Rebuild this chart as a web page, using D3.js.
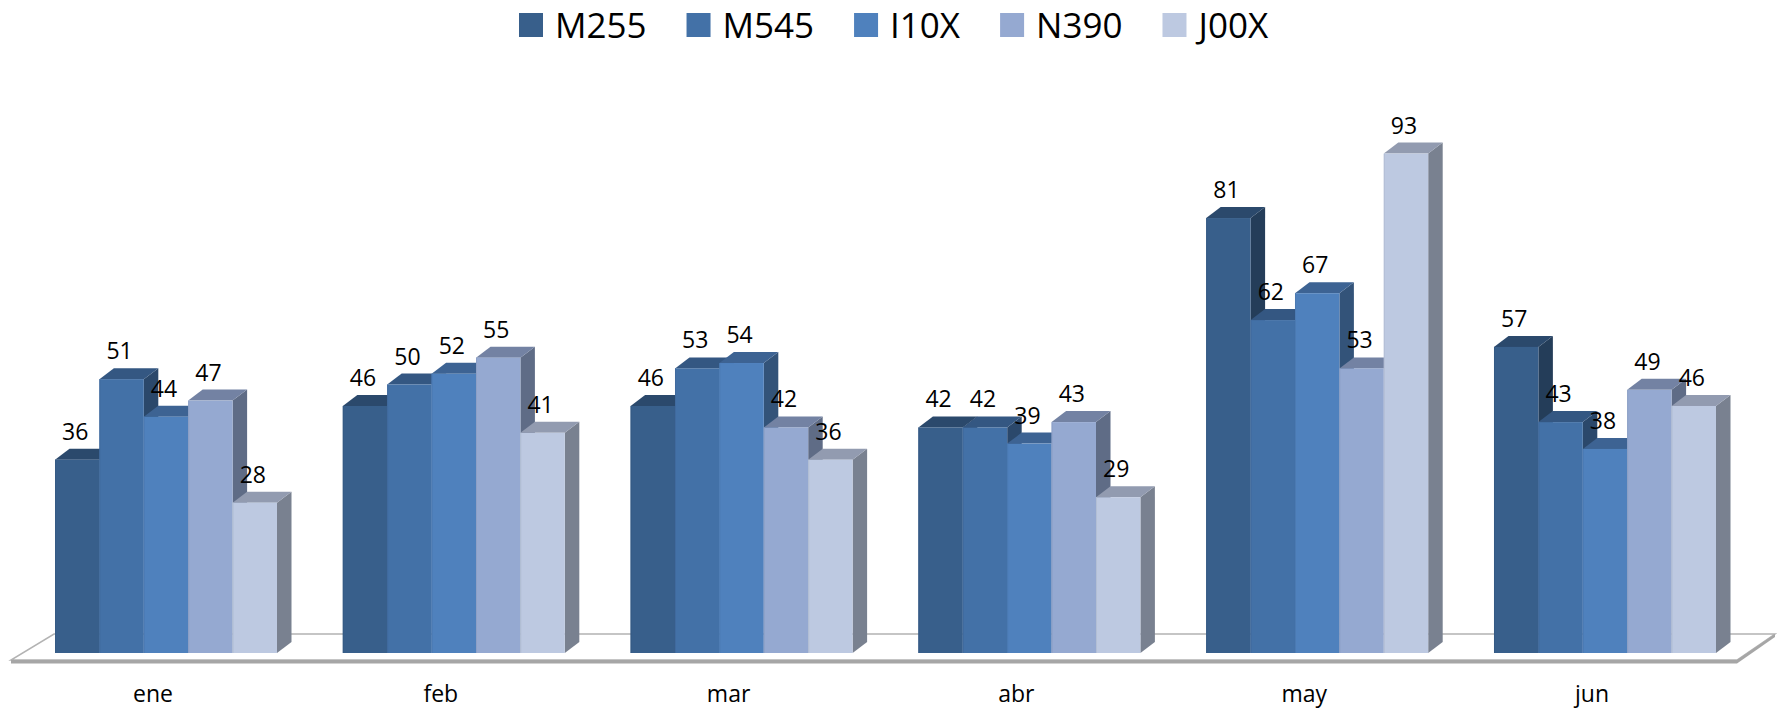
<!DOCTYPE html>
<html>
<head>
<meta charset="utf-8">
<script src="https://cdnjs.cloudflare.com/ajax/libs/d3/7.8.5/d3.min.js"></script>
<style>
  html, body { margin: 0; padding: 0; background: #fff; }
  svg { display: block; }
  text { font-family: "Open Sans", "Noto Sans", sans-serif; fill: #000; }
</style>
</head>
<body>
<svg id="chart" width="1777" height="709"></svg>
<script>
// ---- data ----
const categories = ["ene", "feb", "mar", "abr", "may", "jun"];
const seriesNames = ["M255", "M545", "I10X", "N390", "J00X"];
const M255 = [36, 46, 46, 42, 81, 57];
const M545 = [51, 50, 53, 42, 62, 43];
const I10X = [44, 52, 54, 39, 67, 38];
const N390 = [47, 55, 42, 43, 53, 49];
const J00X = [28, 41, 36, 29, 93, 46];
const seriesValues = [M255, M545, I10X, N390, J00X];
const seriesColors = ["#385f8b", "#4371a7", "#4f81bd", "#95a9d1", "#bdc9e1"];

// ---- layout ----
const W = 1777, H = 709;
const baseY = 653;
const depthX = 14.5, depthY = 11;
const svg = d3.select("#chart");

const x = d3.scaleBand().domain(categories).range([55, 1716]).paddingInner(0.2286).paddingOuter(0);
const xs = d3.scaleBand().domain(seriesNames).range([0, x.bandwidth()]).padding(0);
const y = d3.scaleLinear().domain([0, 100]).range([baseY, baseY - 537]);

// ---- floor ----
const floorG = svg.append("g");
const fl = { bl: 11, br: 1737, tl: 54, tr: 1775, top: 634, bot: 660 };
floorG.append("polygon")
  .attr("points", [[fl.tl, fl.top], [fl.tr, fl.top], [fl.br, fl.bot], [fl.bl, fl.bot]].map(p => p.join(",")).join(" "))
  .attr("fill", "#ffffff").attr("stroke", "#b3b3b3").attr("stroke-width", 1.5);
floorG.append("polygon")
  .attr("points", [[fl.bl, fl.bot], [fl.br, fl.bot], [fl.br, fl.bot + 3.5], [fl.bl, fl.bot + 3.5]].map(p => p.join(",")).join(" "))
  .attr("fill", "#a6a6a6");
floorG.append("polygon")
  .attr("points", [[fl.br, fl.bot], [fl.tr, fl.top], [fl.tr, fl.top + 3], [fl.br, fl.bot + 3.5]].map(p => p.join(",")).join(" "))
  .attr("fill", "#a6a6a6");

// ---- bars ----
const barsG = svg.append("g");
categories.forEach((cat, ci) => {
  seriesNames.forEach((s, si) => {
    const v = seriesValues[si][ci];
    const x0 = x(cat) + xs(s);
    const x1 = x0 + xs.bandwidth();
    const yt = y(v);
    const col = d3.color(seriesColors[si]);
    const side = d3.rgb(col.r * 0.64, col.g * 0.64, col.b * 0.64);
    const top = d3.rgb(col.r * 0.77, col.g * 0.77, col.b * 0.78);
    const g = barsG.append("g");
    g.append("polygon")
      .attr("points", [[x1, yt], [x1 + depthX, yt - depthY], [x1 + depthX, baseY - depthY], [x1, baseY]].map(p => p.join(",")).join(" "))
      .attr("fill", side.formatHex());
    g.append("polygon")
      .attr("points", [[x0, yt], [x0 + depthX, yt - depthY], [x1 + depthX, yt - depthY], [x1, yt]].map(p => p.join(",")).join(" "))
      .attr("fill", top.formatHex());
    g.append("rect")
      .attr("x", x0).attr("y", yt)
      .attr("width", xs.bandwidth()).attr("height", baseY - yt)
      .attr("fill", col.formatHex());
    g.append("line")
      .attr("x1", x0 + 0.5).attr("x2", x0 + 0.5).attr("y1", yt).attr("y2", baseY)
      .attr("stroke", d3.color(seriesColors[si]).darker(0.15).formatHex()).attr("stroke-width", 1);
  });
});

// ---- data labels ----
const labelsG = svg.append("g");
categories.forEach((cat, ci) => {
  seriesNames.forEach((s, si) => {
    const v = seriesValues[si][ci];
    labelsG.append("text")
      .attr("x", x(cat) + xs(s) + xs.bandwidth() / 2 - 2)
      .attr("y", y(v) - 20)
      .attr("text-anchor", "middle")
      .attr("font-size", 23)
      .text(v);
  });
});

// ---- category axis labels ----
const axisG = svg.append("g");
categories.forEach(cat => {
  axisG.append("text")
    .attr("x", x(cat) + x.bandwidth() / 2 - 13)
    .attr("y", 702)
    .attr("text-anchor", "middle")
    .attr("font-size", 23)
    .text(cat);
});

// ---- legend ----
const legendG = svg.append("g");
let lx = 519;
seriesNames.forEach((s, si) => {
  legendG.append("rect")
    .attr("x", lx).attr("y", 13).attr("width", 24).attr("height", 24)
    .attr("fill", seriesColors[si]);
  const t = legendG.append("text")
    .attr("x", lx + 36).attr("y", 38)
    .attr("font-size", 35)
    .text(s);
  lx += 36 + t.node().getComputedTextLength() + 40;
});
</script>
</body>
</html>
